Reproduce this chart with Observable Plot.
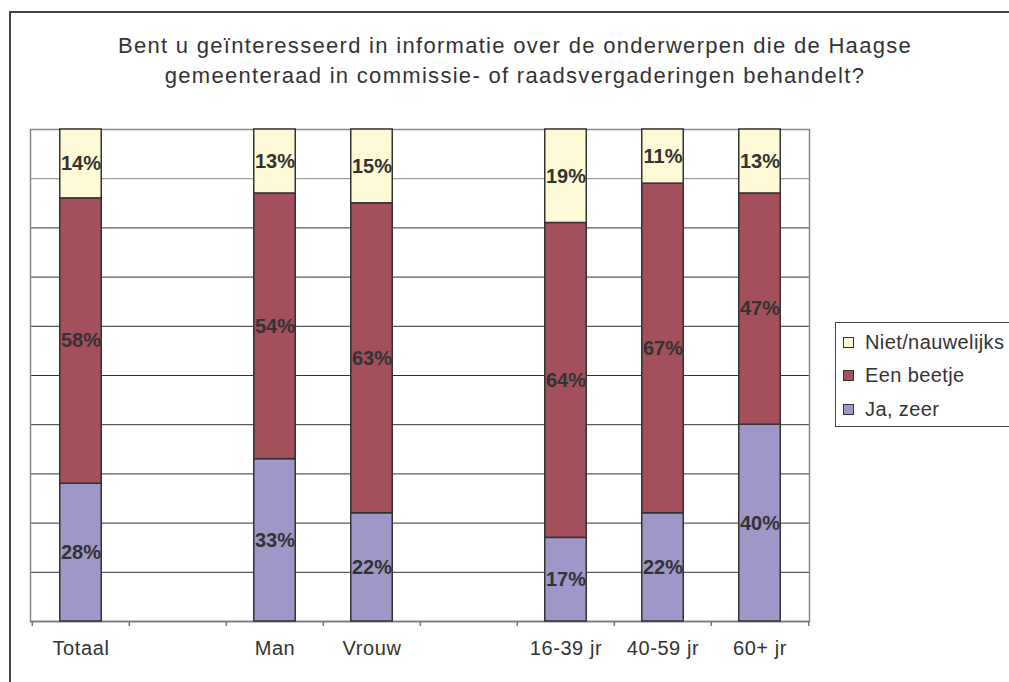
<!DOCTYPE html>
<html>
<head>
<meta charset="utf-8">
<script src="https://cdn.jsdelivr.net/npm/d3@7"></script>
<script src="https://cdn.jsdelivr.net/npm/@observablehq/plot@0.6"></script>
<style>
  html, body { margin: 0; padding: 0; background: #fff; }
  #wrap { position: relative; width: 1009px; height: 682px; overflow: hidden; font-family: "Liberation Sans", Arial, sans-serif; color: #333; }
  #frame { position: absolute; left: 9px; top: 11px; width: 1200px; height: 900px; border: 2px solid #444; box-sizing: border-box; }
  #title { position: absolute; left: 21px; width: 988px; top: 31px; text-align: center; font-size: 22px; letter-spacing: 1.3px; line-height: 30px; color: #333; }
  #chart { position: absolute; left: 0; top: 0; }
  #legend { position: absolute; left: 835px; top: 322px; width: 200px; height: 105px; border: 1px solid #444; box-sizing: border-box; background: #fff; }
  .li { position: absolute; left: 0; height: 20px; display: flex; align-items: center; font-size: 20px; letter-spacing: 0.4px; color: #333; white-space: nowrap; }
  .sw { display: inline-block; width: 9px; height: 9px; border: 1.5px solid #333; margin-left: 7px; margin-right: 11px; }
</style>
</head>
<body>
<div id="wrap">
  <div id="frame"></div>
  <div id="title">Bent u geïnteresseerd in informatie over de onderwerpen die de Haagse<br>gemeenteraad in commissie- of raadsvergaderingen behandelt?</div>
  <div id="chart"></div>
  <div id="legend"></div>
</div>
<script>
// Categories (two empty spacer slots)
const categories = ["Totaal", "_gap1", "Man", "Vrouw", "_gap2", "16-39 jr", "40-59 jr", "60+ jr"];
const barCategories = ["Totaal", "Man", "Vrouw", "16-39 jr", "40-59 jr", "60+ jr"];
// Series, bottom to top
const series = ["Ja, zeer", "Een beetje", "Niet/nauwelijks"];
const jaZeer         = [28, 33, 22, 17, 22, 40];
const eenBeetje      = [58, 54, 63, 64, 67, 47];
const nietNauwelijks = [14, 13, 15, 19, 11, 13];
const colors = ["#9e97c8", "#a34f5c", "#fffad6"];
const gridTicks = [10, 20, 30, 40, 50, 60, 70, 80, 90];

const values = [jaZeer, eenBeetje, nietNauwelijks];
const data = [];
series.forEach((s, si) => barCategories.forEach((c, ci) => data.push({cat: c, series: s, value: values[si][ci]})));

const W = 1009, H = 682;
const mL = 30, mR = W - 809, mT = 129, mB = H - 621;
const slot = (W - mL - mR) / categories.length;

const chart = Plot.plot({
  width: W,
  height: H,
  marginLeft: mL,
  marginRight: mR,
  marginTop: mT,
  marginBottom: mB,
  style: {fontFamily: "'Liberation Sans', Arial, sans-serif", background: "transparent", overflow: "visible"},
  x: {domain: categories, padding: 0, label: null},
  y: {domain: [0, 100], axis: null},
  color: {domain: series, range: colors},
  marks: [
    Plot.ruleY(gridTicks.filter(d => d !== 90), {stroke: "#333", strokeWidth: 1}),
    Plot.ruleY([90], {stroke: "#888", strokeWidth: 1}),
    Plot.frame({stroke: "#8f8585", strokeWidth: 1.5}),
    Plot.ruleY([0], {stroke: "#777", strokeWidth: 1.5}),
    Plot.barY(data, {
      x: "cat", y: "value", fill: "series", order: series,
      stroke: "#333", strokeWidth: 1.5, insetLeft: slot * 0.285, insetRight: slot * 0.285
    }),
    Plot.text(data, Plot.stackY({
      x: "cat", y: "value", z: "series", order: series,
      text: d => d.value + "%", fill: "#333", fontWeight: "bold", fontSize: 20
    })),
    // boundary tick marks below the axis
    Plot.ruleX(categories, {x: d => d, y1: 0, y2: 0, dx: -slot / 2, insetBottom: -5, stroke: "#777", strokeWidth: 1.5}),
    Plot.ruleX([categories[categories.length - 1]], {x: d => d, y1: 0, y2: 0, dx: slot / 2, insetBottom: -5, stroke: "#777", strokeWidth: 1.5}),
    Plot.axisX({
      tickSize: 0, tickPadding: 19, fontSize: 20, fill: "#333",
      tickFormat: d => d.startsWith("_") ? "" : d,
      ariaLabel: "x-axis"
    })
  ]
});
d3.select(chart).selectAll('g[aria-label="x-axis"] text, g[aria-label="x-axis tick label"] text').attr("letter-spacing", "0.6px");
document.getElementById("chart").appendChild(chart);

// Legend (top to bottom: reverse of stacking)
const legend = document.getElementById("legend");
const legendItems = series.slice().reverse();
const rowTops = [9, 42, 76];
legendItems.forEach((s, i) => {
  const row = document.createElement("div");
  row.className = "li";
  row.style.top = rowTops[i] + "px";
  const sw = document.createElement("span");
  sw.className = "sw";
  sw.style.background = colors[series.indexOf(s)];
  row.appendChild(sw);
  row.appendChild(document.createTextNode(s));
  legend.appendChild(row);
});
</script>
</body>
</html>
